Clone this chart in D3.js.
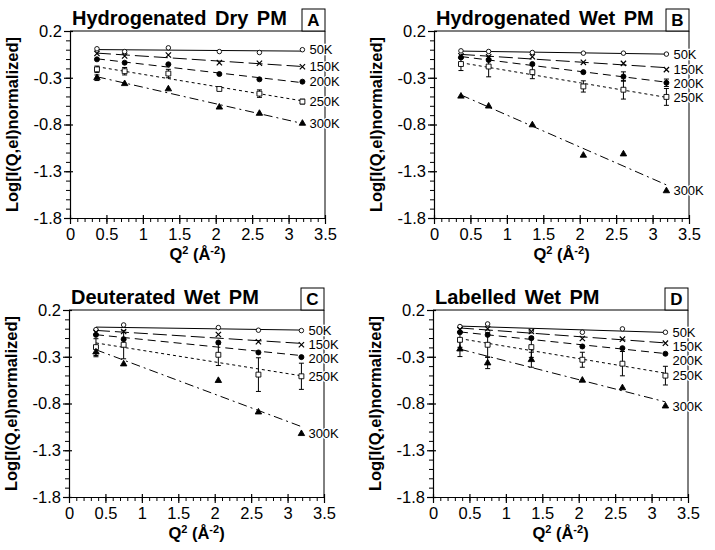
<!DOCTYPE html>
<html>
<head>
<meta charset="utf-8">
<script src="https://cdn.jsdelivr.net/npm/d3@7"></script>
<style>
  body { margin: 0; background: #fff; }
  text { font-family: "Liberation Sans", Arial, Helvetica, sans-serif; fill: #000; }
</style>
</head>
<body>
<div id="chart"></div>
<script>
// Q^2 positions of the measured points
var qFull = [0.37, 0.75, 1.35, 2.05, 2.6, 3.19];
var qDeut = [0.37, 0.75, 2.05, 2.6, 3.19];   // panel C has no 1.35 point

var temps = ["50K", "150K", "200K", "250K", "300K"];
var xTicks = [0, 0.5, 1, 1.5, 2, 2.5, 3, 3.5];
var yTicks = [0.2, -0.3, -0.8, -1.3, -1.8];

// values, one row per temperature (50K,150K,200K,250K,300K)
var dryH = [
  [0.01, -0.02, 0.02, -0.02, -0.03, 0.0],
  [-0.04, -0.067, -0.057, -0.139, -0.145, -0.182],
  [-0.103, -0.139, -0.156, -0.26, -0.317, -0.342],
  [-0.21, -0.23, -0.255, -0.42, -0.47, -0.555],
  [-0.30, -0.364, -0.42, -0.615, -0.682, -0.788]
];
var dryHErr = [
  [0, 0, 0, 0, 0, 0],
  [0, 0, 0, 0, 0, 0],
  [0, 0, 0, 0, 0, 0],
  [0.035, 0.04, 0.045, 0.015, 0.04, 0.025],
  [0.03, 0, 0, 0, 0, 0]
];

var wetH = [
  [-0.012, -0.019, -0.03, -0.037, -0.037, -0.047],
  [-0.065, -0.075, -0.075, -0.135, -0.146, -0.213],
  [-0.083, -0.11, -0.153, -0.24, -0.287, -0.354],
  [-0.153, -0.18, -0.24, -0.393, -0.428, -0.505],
  [-0.498, -0.604, -0.805, -1.13, -1.116, -1.51]
];
var wetHErr = [
  [0, 0, 0, 0, 0, 0],
  [0, 0, 0, 0, 0, 0],
  [0, 0, 0, 0, 0.05, 0.04],
  [0.07, 0.11, 0.07, 0.06, 0.1, 0.09],
  [0, 0, 0, 0, 0, 0]
];

var wetD = [
  [-0.01, 0.04, 0.012, -0.016, -0.02],
  [-0.038, -0.03, -0.062, -0.14, -0.172],
  [-0.066, -0.112, -0.148, -0.254, -0.304],
  [-0.197, -0.172, -0.279, -0.491, -0.509],
  [-0.25, -0.378, -0.555, -0.892, -1.123]
];
var wetDErr = [
  [0, 0, 0, 0, 0],
  [0, 0, 0, 0, 0],
  [0, 0, 0, 0, 0],
  [0.09, 0.15, 0.115, 0.18, 0.14],
  [0.05, 0, 0, 0, 0]
];

var wetL = [
  [0.023, 0.051, -0.023, -0.038, -0.002, -0.038],
  [-0.01, 0.0, -0.03, -0.105, -0.112, -0.155],
  [-0.038, -0.066, -0.101, -0.19, -0.208, -0.268],
  [-0.119, -0.172, -0.197, -0.332, -0.374, -0.502],
  [-0.218, -0.367, -0.332, -0.552, -0.633, -0.828]
];
var wetLErr = [
  [0, 0, 0, 0, 0, 0],
  [0, 0, 0, 0, 0, 0],
  [0, 0, 0, 0, 0, 0],
  [0.08, 0.13, 0.11, 0.08, 0.13, 0.1],
  [0.08, 0.06, 0.08, 0, 0, 0]
];

var panels = [
  { title: "Hydrogenated Dry PM", letter: "A", q: qFull, vals: dryH, errs: dryHErr, x0: 70, y0: 31 },
  { title: "Hydrogenated Wet PM", letter: "B", q: qFull, vals: wetH, errs: wetHErr, x0: 434, y0: 31 },
  { title: "Deuterated Wet PM", letter: "C", q: qDeut, vals: wetD, errs: wetDErr, x0: 69, y0: 310 },
  { title: "Labelled Wet PM", letter: "D", q: qFull, vals: wetL, errs: wetLErr, x0: 433, y0: 310 }
];

var W = 715, H = 550;
var pw = 255, ph = 187;

var dashes = [null, "14,5", "8,5", "3,3", "9,4,2,4"];
var symbols = [d3.symbolCircle, d3.symbolX, d3.symbolCircle, d3.symbolSquare, d3.symbolTriangle];
var symSize = [16, 20, 20, 24, 18];
var symFill = ["#fff", "none", "#000", "#fff", "#000"];

var svg = d3.select("#chart").append("svg")
  .attr("width", W).attr("height", H);

function fit(xs, ys) {  // least squares line
  var mx = d3.mean(xs), my = d3.mean(ys), sxy = 0, sxx = 0;
  xs.forEach(function(x, i){ sxy += (x - mx) * (ys[i] - my); sxx += (x - mx) * (x - mx); });
  var b = sxy / sxx;
  return function(x){ return my + b * (x - mx); };
}

panels.forEach(function(p){
  var g = svg.append("g").attr("transform", "translate(" + p.x0 + "," + p.y0 + ")");
  var x = d3.scaleLinear().domain([0, 3.5]).range([0, pw]);
  var y = d3.scaleLinear().domain([-1.8, 0.2]).range([ph, 0]);

  // minor ticks
  g.append("g").attr("transform", "translate(0," + ph + ")")
    .call(d3.axisBottom(x).tickValues(d3.range(0, 35).map(function(i){ return i / 10; }))
      .tickSize(4).tickSizeOuter(0).tickFormat(""))
    .call(function(a){ a.select(".domain").remove(); });
  g.append("g")
    .call(d3.axisLeft(y).tickValues(d3.range(0, 20).map(function(i){ return -1.8 + i / 10; }))
      .tickSize(4).tickSizeOuter(0).tickFormat(""))
    .call(function(a){ a.select(".domain").remove(); });

  // major axes
  var xa = g.append("g").attr("transform", "translate(0," + ph + ")")
    .call(d3.axisBottom(x).tickValues(xTicks).tickSize(6).tickSizeOuter(0).tickPadding(4)
      .tickFormat(function(d){ return String(d); }));
  var ya = g.append("g")
    .call(d3.axisLeft(y).tickValues(yTicks).tickSize(6).tickSizeOuter(0).tickPadding(2)
      .tickFormat(function(d){ return d.toFixed(1); }));
  [xa, ya].forEach(function(a){
    a.selectAll("text").style("font-size", "16.5px").attr("fill", "#000");
    a.selectAll("line, path").attr("stroke", "#000").attr("stroke-width", 1.2);
  });
  ya.selectAll(".tick line").attr("x1", 3);
  xa.selectAll(".tick line").attr("y1", -3);

  // frame top and right
  g.append("line").attr("x1", 0).attr("x2", pw).attr("y1", 0).attr("y2", 0)
    .attr("stroke", "#000").attr("stroke-width", 1.2);
  g.append("line").attr("x1", pw).attr("x2", pw).attr("y1", 0).attr("y2", ph)
    .attr("stroke", "#000").attr("stroke-width", 1);

  // title, words laid out one by one with a wide gap
  var tx = 2;
  p.title.split(" ").forEach(function(w){
    var t = g.append("text").attr("x", tx).attr("y", -6)
      .style("font-size", "20px").style("font-weight", "bold").text(w);
    tx += t.node().getComputedTextLength() + 8.5;
  });
  g.append("rect").attr("x", pw - 23).attr("y", -22).attr("width", 23).attr("height", 22)
    .attr("fill", "#fff").attr("stroke", "#000").attr("stroke-width", 1);
  g.append("text").attr("x", pw - 11.5).attr("y", -5).attr("text-anchor", "middle")
    .style("font-size", "17px").style("font-weight", "bold").text(p.letter);

  // axis titles
  g.append("text")
    .attr("transform", "translate(-52," + (ph / 2) + ") rotate(-90)")
    .attr("text-anchor", "middle")
    .style("font-size", "16.5px").style("font-weight", "bold")
    .text("Log[I(Q,el)normalized]");
  var xl = g.append("text").attr("x", pw / 2).attr("y", ph + 42).attr("text-anchor", "middle")
    .style("font-size", "16.5px").style("font-weight", "bold");
  xl.append("tspan").text("Q");
  xl.append("tspan").attr("dy", -6).style("font-size", "11px").text("2");
  xl.append("tspan").attr("dy", 6).text(" (Å");
  xl.append("tspan").attr("dy", -6).style("font-size", "11px").text("-2");
  xl.append("tspan").attr("dy", 6).text(")");

  p.vals.forEach(function(vals, s){
    var f = fit(p.q, vals);
    var q0 = p.q[0], q1 = p.q[p.q.length - 1];
    // error bars
    p.errs[s].forEach(function(e, i){
      if (!e) return;
      var xx = x(p.q[i]);
      g.append("line").attr("x1", xx).attr("x2", xx)
        .attr("y1", y(vals[i] - e)).attr("y2", y(vals[i] + e)).attr("stroke", "#000");
      [vals[i] - e, vals[i] + e].forEach(function(v){
        g.append("line").attr("x1", xx - 2.5).attr("x2", xx + 2.5)
          .attr("y1", y(v)).attr("y2", y(v)).attr("stroke", "#000");
      });
    });
    // fitted line
    g.append("line")
      .attr("x1", x(q0)).attr("y1", y(f(q0)))
      .attr("x2", x(q1)).attr("y2", y(f(q1)))
      .attr("stroke", "#000").attr("stroke-width", 1)
      .attr("stroke-dasharray", dashes[s]);
  });

  var lastY = -Infinity;
  p.vals.forEach(function(vals, s){
    g.selectAll(null).data(vals).enter().append("path")
      .attr("transform", function(d, i){ return "translate(" + x(p.q[i]) + "," + y(d) + ")"; })
      .attr("d", d3.symbol().type(symbols[s]).size(symSize[s]))
      .attr("fill", symFill[s])
      .attr("stroke", "#000").attr("stroke-width", s === 1 ? 1.2 : 0.9);
    // series label, kept clear of the one above
    var ly = Math.max(y(vals[vals.length - 1]), lastY + 14);
    lastY = ly;
    g.append("text")
      .attr("x", x(p.q[p.q.length - 1]) + 7)
      .attr("y", ly)
      .attr("dy", "0.35em")
      .style("font-size", "13px")
      .attr("stroke", "#fff").attr("stroke-width", 2.5).attr("paint-order", "stroke")
      .text(temps[s]);
  });
});
</script>
</body>
</html>
